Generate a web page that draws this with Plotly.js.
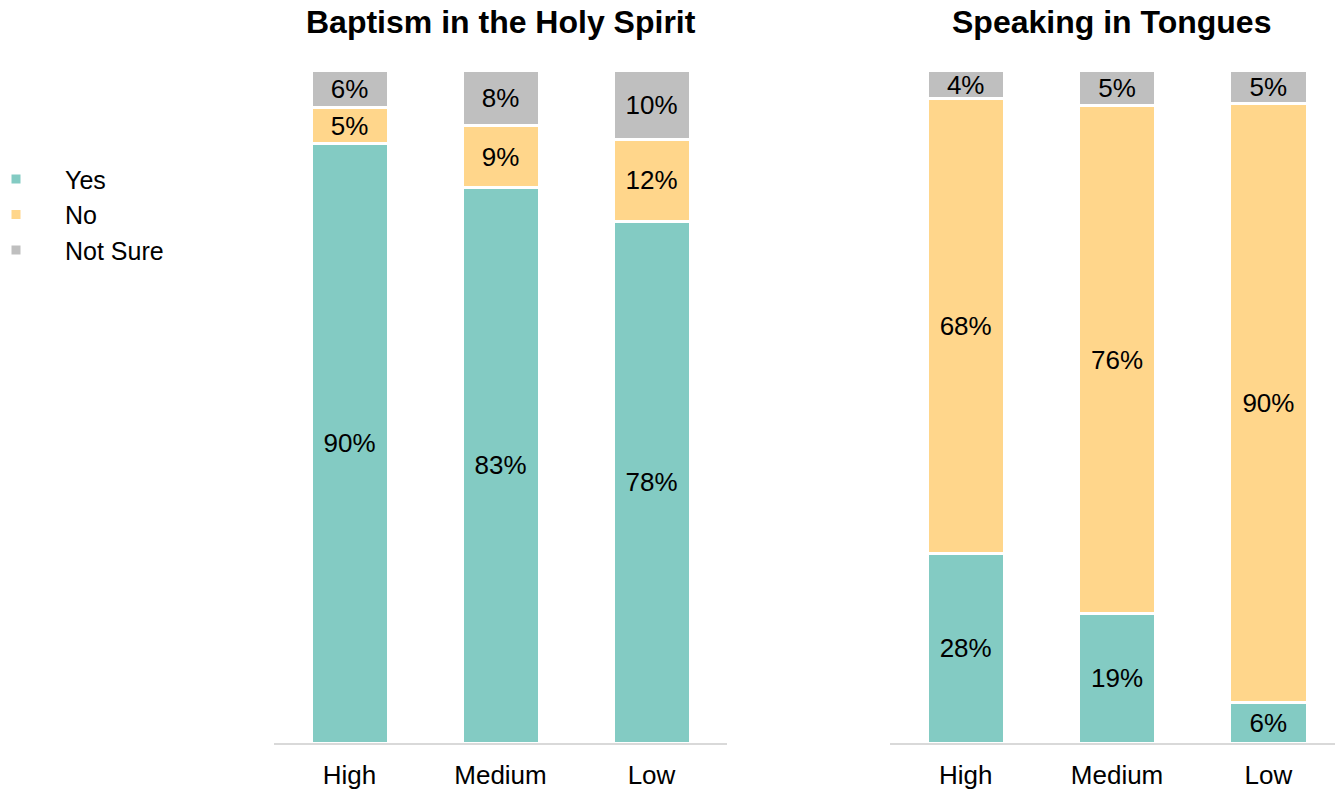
<!DOCTYPE html>
<html>
<head>
<meta charset="utf-8">
<script src="https://cdn.plot.ly/plotly-3.0.1.min.js"></script>
<style>html,body{margin:0;padding:0;background:#fff;}#chart{width:1335px;height:789px;}</style>
</head>
<body>
<div id="chart"></div>
<script>
const categories = ["High", "Medium", "Low"];
const seriesNames = ["Yes", "No", "Not Sure"];
// values (labels show rounded values)
const baptismYes = [90.0, 83.4, 78.4];
const baptismNo = [5.4, 9.3, 12.3];
const baptismNotSure = [5.7, 8.4, 10.4];
const tonguesYes = [28.4, 19.4, 6.1];
const tonguesNo = [68.4, 76.4, 90.0];
const tonguesNotSure = [4.2, 5.2, 5.0];
const panelTitles = ["Baptism in the Holy Spirit", "Speaking in Tongues"];

const colors = ["#83CBC3", "#FFD68B", "#BFBFBF"];
const FONT = "Liberation Sans, Arial, sans-serif";

function mk(y, i, xa, ya, showleg) {
  return {
    type: "bar", x: categories, y: y, name: seriesNames[i],
    xaxis: xa, yaxis: ya, legendgroup: seriesNames[i], showlegend: showleg,
    marker: {color: colors[i], line: {color: "#ffffff", width: 3}},
    width: 0.51,
    texttemplate: "%{y:.0f}%", textposition: "inside", insidetextanchor: "middle",
    constraintext: "none", textangle: 0,
    textfont: {color: "#000000", size: 26, family: FONT},
    hoverinfo: "skip", cliponaxis: false
  };
}

const data = [
  mk(baptismYes, 0, "x", "y", true),
  mk(baptismNo, 1, "x", "y", true),
  mk(baptismNotSure, 2, "x", "y", true),
  mk(tonguesYes, 0, "x2", "y2", false),
  mk(tonguesNo, 1, "x2", "y2", false),
  mk(tonguesNotSure, 2, "x2", "y2", false)
];

const W = 1335;
const xCommon = {
  showline: true, linecolor: "#D9D9D9", linewidth: 2, ticks: "",
  showgrid: false, zeroline: false, ticklabelstandoff: 8,
  tickfont: {size: 26, color: "#000000", family: FONT}, fixedrange: true
};
const yCommon = {range: [0, 101.25], showticklabels: false, showgrid: false, zeroline: false, showline: false, fixedrange: true};

const layout = {
  width: 1335, height: 789,
  margin: {l: 0, r: 0, t: 69, b: 46, autoexpand: false},
  barmode: "stack",
  paper_bgcolor: "#ffffff", plot_bgcolor: "#ffffff",
  font: {family: FONT, color: "#000000"},
  xaxis: Object.assign({}, xCommon, {domain: [274 / W, 727 / W], range: [-0.5, 2.5]}),
  xaxis2: Object.assign({}, xCommon, {domain: [890 / W, 1], range: [-0.5, 2.44], anchor: "y2"}),
  yaxis: Object.assign({}, yCommon, {anchor: "x"}),
  yaxis2: Object.assign({}, yCommon, {anchor: "x2"}),
  legend: {
    x: -33 / W, xanchor: "left", y: 0.8704, yanchor: "top",
    font: {size: 25, color: "#000000", family: FONT},
    traceorder: "normal", itemwidth: 88, tracegroupgap: 0,
    bgcolor: "rgba(0,0,0,0)"
  },
  annotations: [
    {text: "<b>" + panelTitles[0] + "</b>", xref: "paper", yref: "paper", x: 501 / W, y: 1.0697, xanchor: "center", yanchor: "middle", showarrow: false, font: {size: 32, color: "#000000", family: FONT}},
    {text: "<b>" + panelTitles[1] + "</b>", xref: "paper", yref: "paper", x: 1111 / W, y: 1.0697, xanchor: "center", yanchor: "middle", showarrow: false, font: {size: 32, color: "#000000", family: FONT}}
  ]
};

Plotly.newPlot("chart", data, layout, {displayModeBar: false, staticPlot: true});
</script>
</body>
</html>
